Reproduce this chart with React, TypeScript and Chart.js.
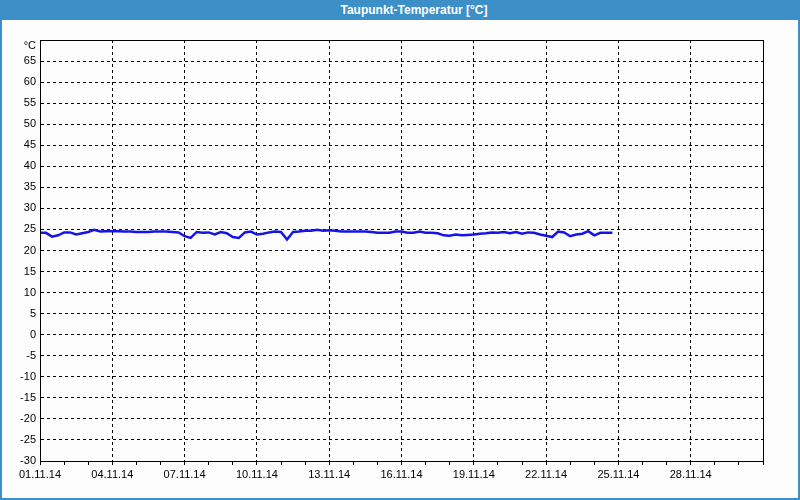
import React, { useEffect, useRef } from "react";
import { Chart, registerables } from "chart.js";

Chart.register(...registerables);

const chartTitle = "Taupunkt-Temperatur [°C]";
const yUnitLabel = "°C";
const xTickLabels = [
  "01.11.14", "04.11.14", "07.11.14", "10.11.14", "13.11.14",
  "16.11.14", "19.11.14", "22.11.14", "25.11.14", "28.11.14",
];

// day offset since 01.11.14 00:00
const sampleDays = [
  0, 0.25, 0.5, 0.75, 1, 1.25, 1.5, 1.75, 2, 2.25, 2.5, 2.75,
  3, 3.25, 3.5, 3.75, 4, 4.25, 4.5, 4.75, 5, 5.25, 5.5, 5.75,
  6, 6.25, 6.5, 6.75, 7, 7.25, 7.5, 7.75, 8, 8.25, 8.5, 8.75,
  9, 9.25, 9.5, 9.75, 10, 10.25, 10.5, 10.75, 11, 11.25, 11.5, 11.75,
  12, 12.25, 12.5, 12.75, 13, 13.25, 13.5, 13.75, 14, 14.25, 14.5, 14.75,
  15, 15.25, 15.5, 15.75, 16, 16.25, 16.5, 16.75, 17, 17.25, 17.5, 17.75,
  18, 18.25, 18.5, 18.75, 19, 19.25, 19.5, 19.75, 20, 20.25, 20.5, 20.75,
  21, 21.25, 21.5, 21.75, 22, 22.25, 22.5, 22.75, 23, 23.25, 23.5, 23.75,
];

const dewPoint = [
  24.2, 24.2, 23.3, 23.6, 24.3, 24.3, 23.8, 24.1, 24.4, 24.9, 24.5, 24.6,
  24.6, 24.6, 24.5, 24.5, 24.4, 24.4, 24.4, 24.5, 24.5, 24.5, 24.4, 24.3,
  23.4, 23.0, 24.4, 24.2, 24.3, 23.8, 24.4, 24.1, 23.2, 23.0, 24.3, 24.5,
  23.8, 24.0, 24.3, 24.5, 24.4, 22.6, 24.4, 24.5, 24.7, 24.7, 24.9, 24.7,
  24.8, 24.7, 24.5, 24.5, 24.5, 24.5, 24.5, 24.4, 24.2, 24.2, 24.2, 24.5,
  24.5, 24.2, 24.2, 24.5, 24.2, 24.2, 24.1, 23.6, 23.5, 23.8, 23.6, 23.7,
  23.8, 24.0, 24.1, 24.3, 24.2, 24.4, 24.1, 24.4, 24.0, 24.3, 24.2, 23.8,
  23.5, 23.2, 24.5, 24.3, 23.4, 23.8, 24.0, 24.6, 23.6, 24.2, 24.2, 24.2,
];

const xMin = 0;
const xMax = 30;
const yMin = -30;
const yMax = 70;

const FONT_FAMILY = "'Liberation Sans', Arial, sans-serif";

const framePlugin = {
  id: "frame",
  afterDraw(chart: any) {
    const { ctx, chartArea } = chart;
    ctx.save();
    ctx.strokeStyle = "#000";
    ctx.lineWidth = 1;
    ctx.setLineDash([]);
    ctx.strokeRect(
      Math.round(chartArea.left) + 0.5,
      Math.round(chartArea.top) + 0.5,
      Math.round(chartArea.right - chartArea.left),
      Math.round(chartArea.bottom - chartArea.top)
    );
    // unit label at the top of the value axis
    ctx.fillStyle = "#000";
    ctx.font = `11px ${FONT_FAMILY}`;
    ctx.textAlign = "right";
    ctx.textBaseline = "middle";
    ctx.fillText(yUnitLabel, chartArea.left - 4, chartArea.top + 6);
    ctx.restore();
  },
};

export default function App() {
  const canvasRef = useRef<HTMLCanvasElement | null>(null);

  useEffect(() => {
    if (!canvasRef.current) return;
    const font = { family: FONT_FAMILY, size: 11 };
    const chart = new Chart(canvasRef.current, {
      type: "line",
      data: {
        datasets: [
          {
            data: sampleDays.map((d, i) => ({ x: d, y: dewPoint[i] })),
            borderColor: "#1414e6",
            borderWidth: 2.5,
            pointRadius: 0,
            tension: 0,
            fill: false,
          },
        ],
      },
      options: {
        animation: false,
        responsive: false,
        maintainAspectRatio: false,
        layout: { padding: { left: 0, right: 35, top: 20, bottom: 0 } },
        plugins: {
          legend: { display: false },
          title: { display: false },
          tooltip: { enabled: false },
        },
        scales: {
          x: {
            type: "linear",
            min: xMin,
            max: xMax,
            afterFit: (s: any) => {
              s.height = 37;
            },
            ticks: {
              stepSize: 1,
              autoSkip: false,
              maxRotation: 0,
              padding: 3,
              color: "#000",
              font,
              callback: (v: any) => {
                const n = Number(v);
                return n % 3 === 0 ? xTickLabels[n / 3] ?? "" : "";
              },
            },
            grid: {
              color: (c: any) =>
                c.tick && c.tick.value % 3 === 0 && c.tick.value > xMin && c.tick.value < xMax
                  ? "#000"
                  : "rgba(0,0,0,0)",
              tickColor: "#000",
              tickLength: 4,
              lineWidth: 1,
            },
            border: { display: true, color: "#000", dash: [3, 3] },
          },
          y: {
            min: yMin,
            max: yMax,
            afterFit: (s: any) => {
              s.width = 38;
            },
            ticks: {
              stepSize: 5,
              padding: 4,
              color: "#000",
              font,
              callback: (v: any) => (Number(v) === yMax ? "" : String(v)),
            },
            grid: {
              color: (c: any) =>
                c.tick && c.tick.value > yMin && c.tick.value < yMax ? "#000" : "rgba(0,0,0,0)",
              drawTicks: false,
              lineWidth: 1,
            },
            border: { display: true, color: "#000", dash: [3, 3] },
          },
        },
      },
      plugins: [framePlugin],
    });
    return () => chart.destroy();
  }, []);

  return (
    <div
      style={{
        position: "absolute",
        left: 0,
        top: 0,
        width: 800,
        height: 500,
        background: "#3d8fc8",
        overflow: "hidden",
      }}
    >
      <div
        style={{
          position: "absolute",
          left: 0,
          top: 0,
          width: 800,
          height: 20,
          lineHeight: "20px",
          color: "#fff",
          fontFamily: FONT_FAMILY,
          fontWeight: "bold",
          fontSize: 12,
          textAlign: "center",
          paddingLeft: 28,
          boxSizing: "border-box",
        }}
      >
        {chartTitle}
      </div>
      <div
        style={{
          position: "absolute",
          left: 2,
          top: 20,
          width: 796,
          height: 478,
          background: "#fcfdfc",
        }}
      >
        <canvas ref={canvasRef} width={796} height={478} style={{ display: "block", width: 796, height: 478 }} />
      </div>
    </div>
  );
}
